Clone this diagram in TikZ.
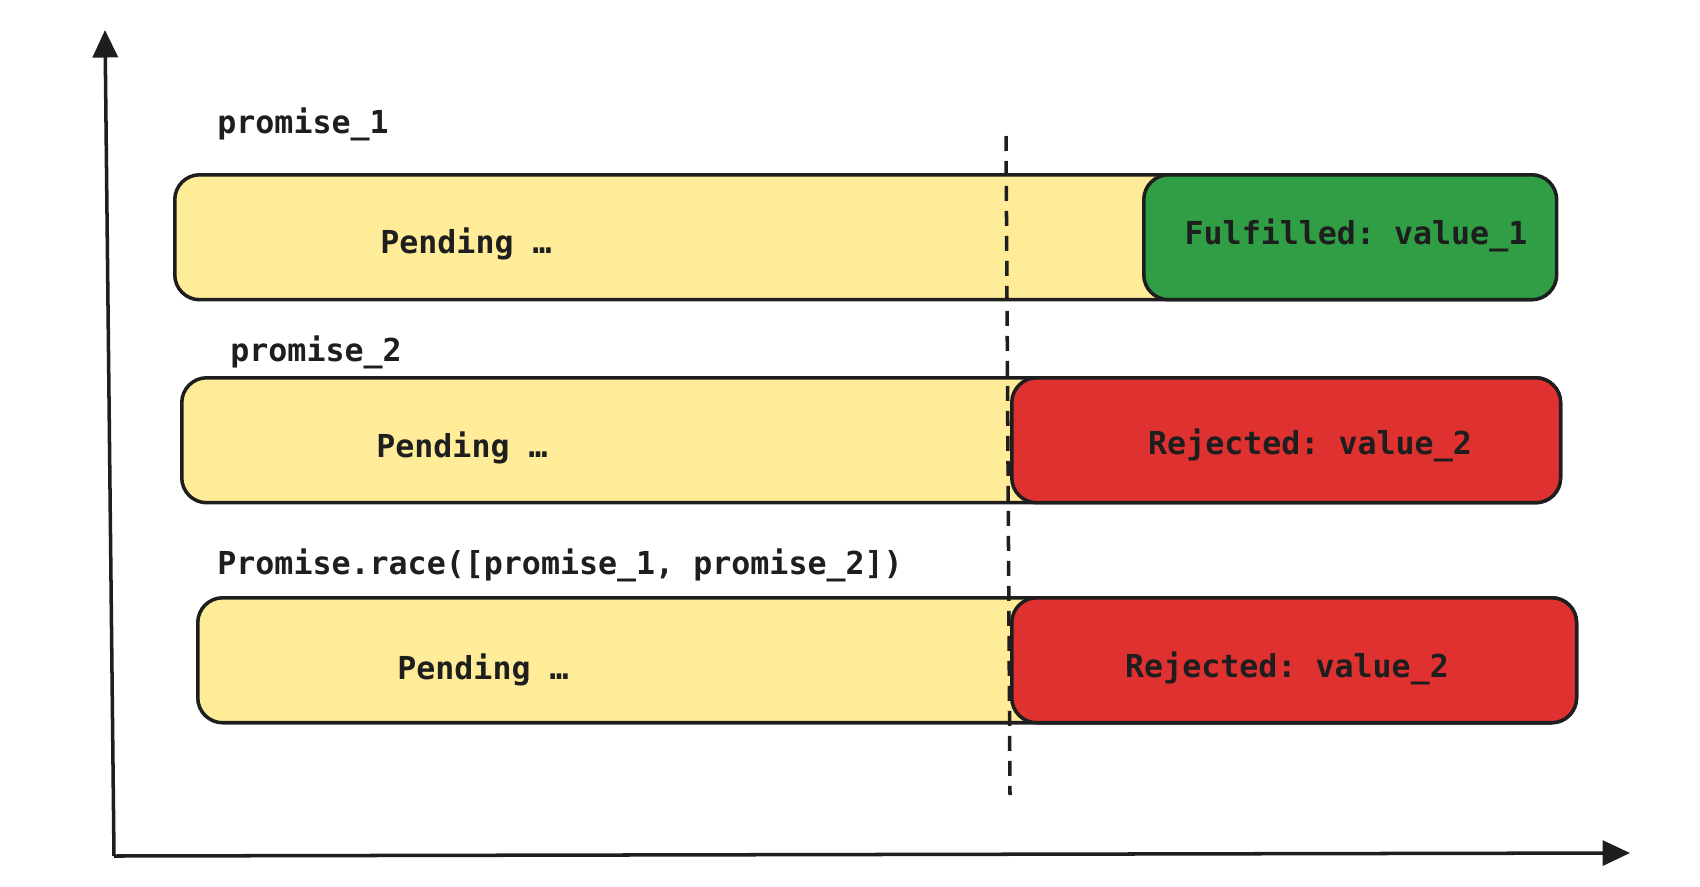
\documentclass[tikz,border=0pt]{standalone}
\usepackage{fontspec}
\setmonofont{DejaVu Sans Mono}
\usepackage{tikz}
\usetikzlibrary{arrows.meta,positioning,calc}

\definecolor{pendfill}{HTML}{FFEC99}
\definecolor{okfill}{HTML}{2F9E44}
\definecolor{errfill}{HTML}{E03131}
\definecolor{ink}{HTML}{1E1E1E}

\begin{document}
\begin{tikzpicture}[
  x=0.02cm,y=-0.02cm,
  state/.style={draw=ink,line width=2pt,rounded corners=0.5cm,anchor=north west,
                minimum height=2.5cm,inner sep=0pt},
  pend/.style={state,fill=pendfill},
  ok/.style={state,fill=okfill},
  err/.style={state,fill=errfill},
  lbl/.style={font=\ttfamily\bfseries\fontsize{18}{22}\selectfont,text=ink,inner sep=0pt},
  axis/.style={-{Triangle[length=0.55cm,width=0.5cm]},draw=ink,line width=2pt}]

\useasboundingbox (0,0) rectangle (1700,886);

% axes
\coordinate (orig) at (114,856);
\coordinate (ytop) at (105,30);
\coordinate (xend) at (1630,853);
\draw[axis] (orig) -- (ytop);
\draw[axis] (orig) -- (xend);

% promise_1
\node[lbl,anchor=west] (name1) at (217,124) {promise\_1};
\node[pend,minimum width=27.6cm] (pend1) at (173,173) {};
\node[ok,minimum width=8.26cm] (done1) at (1142,173) {};
\node[lbl] (txtp1) at (466,244) {Pending …};
\node[lbl] (txtd1) at (1356,235) {Fulfilled: value\_1};

% promise_2
\node[lbl,anchor=west] (name2) at (230,352) {promise\_2};
\node[pend,minimum width=27.58cm] (pend2) at (180,376) {};
\node[err,minimum width=10.98cm] (done2) at (1010,376) {};
\node[lbl] (txtp2) at (462,448) {Pending …};
\node[lbl] (txtd2) at (1310,445) {Rejected: value\_2};

% race
\node[lbl,anchor=west] (name3) at (217,565) {Promise.race([promise\_1, promise\_2])};
\node[pend,minimum width=27.58cm] (pend3) at (196,596) {};
\node[err,minimum width=11.3cm] (done3) at (1010,596) {};
\node[lbl] (txtp3) at (483,670) {Pending …};
\node[lbl] (txtd3) at (1287,668) {Rejected: value\_2};

% moment of settlement
\coordinate (cuttop) at (1006,136);
\coordinate (cutbot) at (1010,795);
\draw[draw=ink,line width=2pt,dash pattern=on 0.3cm off 0.2cm] (cuttop) -- (cutbot);

\end{tikzpicture}
\end{document}
